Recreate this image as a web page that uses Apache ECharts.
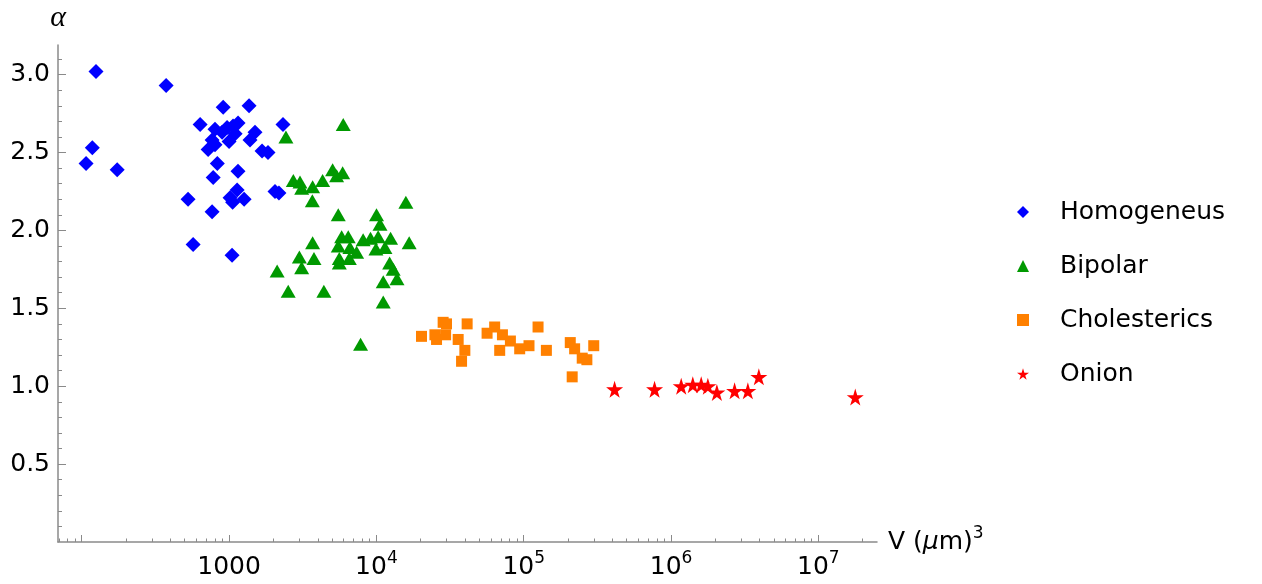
<!DOCTYPE html>
<html>
<head>
<meta charset="utf-8">
<script src="https://cdn.jsdelivr.net/npm/echarts@6/dist/echarts.min.js"></script>
<style>
  html, body { margin: 0; padding: 0; background: #fff; }
  #chart { width: 1262px; height: 584px; }
</style>
</head>
<body>
<div id="chart"></div>
<script>
// data: [V (um^3), alpha]
const homogeneus = [
  [125, 3.02], [374, 2.93], [912, 2.79], [1367, 2.80], [636, 2.68], [2323, 2.68],
  [803, 2.65], [969, 2.66], [1064, 2.67], [1151, 2.69], [1099, 2.62], [897, 2.63],
  [1500, 2.63], [1387, 2.58], [767, 2.58], [803, 2.55], [721, 2.52], [1000, 2.57],
  [1675, 2.51], [1837, 2.50], [118, 2.53], [107, 2.43], [174, 2.39], [832, 2.43],
  [1150, 2.38], [780, 2.34], [527, 2.20], [1134, 2.26], [1016, 2.21], [1057, 2.18],
  [1265, 2.20], [2050, 2.25], [2180, 2.24], [767, 2.12], [570, 1.91], [1048, 1.84]
];
const bipolar = [
  [5957, 2.68], [2432, 2.60], [2730, 2.32], [3030, 2.31], [3110, 2.27], [3690, 2.28],
  [4315, 2.32], [5045, 2.39], [5370, 2.35], [5900, 2.37], [3675, 2.19], [15850, 2.18],
  [5510, 2.10], [10020, 2.10], [10580, 2.04], [3690, 1.92], [5810, 1.96], [6440, 1.96],
  [8130, 1.94], [9120, 1.95], [10280, 1.96], [12480, 1.95], [16690, 1.92], [5510, 1.90],
  [6610, 1.89], [7340, 1.86], [9930, 1.88], [11430, 1.89], [3000, 1.83], [3770, 1.82],
  [5600, 1.82], [6550, 1.82], [5600, 1.79], [3110, 1.76], [12300, 1.79], [13000, 1.75],
  [13800, 1.69], [2120, 1.74], [11130, 1.67], [2520, 1.61], [4400, 1.61], [11130, 1.54],
  [7810, 1.27]
];
const cholesterics = [
  [20230, 1.32], [24950, 1.33], [28380, 1.41], [29900, 1.40], [25600, 1.30], [29500, 1.33],
  [41300, 1.40], [35900, 1.30], [39850, 1.23], [37850, 1.16], [56400, 1.34], [63500, 1.38],
  [71700, 1.33], [68700, 1.23], [81200, 1.29], [93900, 1.24], [108600, 1.26], [125100, 1.38],
  [142500, 1.23], [207000, 1.28], [221600, 1.24], [298700, 1.26], [249500, 1.18], [268300, 1.17],
  [213300, 1.06]
];
const onion = [
  [413900, 0.98], [773000, 0.98], [1172000, 1.00], [1405000, 1.01], [1602000, 1.01],
  [1778000, 1.00], [2047000, 0.96], [2700000, 0.97], [3322000, 0.97], [3944000, 1.06],
  [17800000, 0.93]
];

// axis ticks
const xMajorTicks = [100, 1000, 1e4, 1e5, 1e6, 1e7];
const xLabelTicks = [1000, 1e4, 1e5, 1e6, 1e7];
const xMinorTicks = [
  70, 80, 90,
  200, 300, 400, 500, 600, 700, 800, 900,
  2000, 3000, 4000, 5000, 6000, 7000, 8000, 9000,
  2e4, 3e4, 4e4, 5e4, 6e4, 7e4, 8e4, 9e4,
  2e5, 3e5, 4e5, 5e5, 6e5, 7e5, 8e5, 9e5,
  2e6, 3e6, 4e6, 5e6, 6e6, 7e6, 8e6, 9e6,
  2e7
];
const yMajorTicks = [0.5, 1.0, 1.5, 2.0, 2.5, 3.0];
const yMinorTicks = [
  0.1, 0.2, 0.3, 0.4, 0.6, 0.7, 0.8, 0.9, 1.1, 1.2, 1.3, 1.4, 1.6, 1.7, 1.8, 1.9,
  2.1, 2.2, 2.3, 2.4, 2.6, 2.7, 2.8, 2.9, 3.1
];

const starPath = 'path://M50,0 L61,35 L98,35 L68,57 L79,91 L50,70 L21,91 L32,57 L2,35 L39,35 Z';
const axisGrey = '#8a8a8a';
const font = 'DejaVu Sans, sans-serif';

const chart = echarts.init(document.getElementById('chart'));

const xRange = { type: 'log', logBase: 10, min: 69, max: 2.5e7 };
const yRange = { type: 'value', min: 0, max: 3.19 };

const option = {
  animation: false,
  backgroundColor: '#fff',
  grid: { left: 58, right: 385, top: 45, bottom: 42 },
  legend: {
    orient: 'vertical',
    left: 1012,
    top: 192,
    itemWidth: 12,
    itemHeight: 12,
    itemGap: 24,
    textStyle: {
      fontFamily: font, fontSize: 25, color: '#000', lineHeight: 30,
      padding: [0, 0, 0, 26]
    },
    data: ['Homogeneus', 'Bipolar', 'Cholesterics', 'Onion']
  },
  xAxis: [
    Object.assign({}, xRange, {
      position: 'bottom',
      name: '{a|V (}{i|\u03bc}{a|m)}{s|3}',
      nameLocation: 'end',
      nameGap: 11,
      nameTextStyle: {
        rich: {
          a: { fontFamily: font, fontSize: 25, color: '#000', lineHeight: 34 },
          i: { fontFamily: font, fontSize: 25, fontStyle: 'italic', color: '#000', lineHeight: 34 },
          s: { fontFamily: font, fontSize: 17, color: '#000', lineHeight: 34, verticalAlign: 'top' }
        }
      },
      axisLine: { show: true, onZero: false, lineStyle: { color: axisGrey, width: 1.5 } },
      axisTick: { show: true, inside: true, length: 7, customValues: xMajorTicks, lineStyle: { color: axisGrey } },
      axisLabel: {
        show: true,
        customValues: xLabelTicks,
        margin: 8,
        formatter: function (v) {
          const e = Math.round(Math.log10(v));
          if (e === 3) return '{b|1000}';
          return '{b|10}{e|' + e + '}';
        },
        rich: {
          b: { fontFamily: font, fontSize: 25, color: '#000', lineHeight: 34 },
          e: { fontFamily: font, fontSize: 17, color: '#000', lineHeight: 34, verticalAlign: 'top' }
        }
      },
      splitLine: { show: false }
    }),
    Object.assign({}, xRange, {
      position: 'bottom',
      axisLine: { show: false },
      axisTick: { show: true, inside: true, length: 3.5, customValues: xMinorTicks, lineStyle: { color: axisGrey } },
      axisLabel: { show: false },
      splitLine: { show: false }
    })
  ],
  yAxis: [
    Object.assign({}, yRange, {
      position: 'left',
      name: '\u03b1',
      nameLocation: 'end',
      nameGap: 12,
      nameTextStyle: { fontFamily: 'Liberation Serif, serif', fontStyle: 'italic', fontSize: 30, color: '#000' },
      axisLine: { show: true, onZero: false, lineStyle: { color: axisGrey, width: 1.5 } },
      axisTick: { show: true, inside: true, length: 8, customValues: yMajorTicks, lineStyle: { color: axisGrey } },
      axisLabel: {
        show: true,
        customValues: yMajorTicks,
        margin: 8,
        fontFamily: font, fontSize: 25, color: '#000',
        formatter: function (v) { return v.toFixed(1); }
      },
      splitLine: { show: false }
    }),
    Object.assign({}, yRange, {
      position: 'left',
      axisLine: { show: false },
      axisTick: { show: true, inside: true, length: 4, customValues: yMinorTicks, lineStyle: { color: axisGrey } },
      axisLabel: { show: false },
      splitLine: { show: false }
    })
  ],
  series: [
    {
      name: 'Homogeneus', type: 'scatter', data: homogeneus,
      symbol: 'diamond', symbolSize: [15, 15],
      itemStyle: { color: '#0000ff', opacity: 1 }
    },
    {
      name: 'Bipolar', type: 'scatter', data: bipolar,
      symbol: 'triangle', symbolSize: [15, 13],
      itemStyle: { color: '#009900', opacity: 1 }
    },
    {
      name: 'Cholesterics', type: 'scatter', data: cholesterics,
      symbol: 'rect', symbolSize: 11,
      itemStyle: { color: '#ff8000', opacity: 1 }
    },
    {
      name: 'Onion', type: 'scatter', data: onion,
      symbol: starPath, symbolSize: 17,
      itemStyle: { color: '#ff0000', opacity: 1 }
    }
  ]
};

chart.setOption(option);
window.addEventListener('resize', () => chart.resize());
</script>
</body>
</html>
